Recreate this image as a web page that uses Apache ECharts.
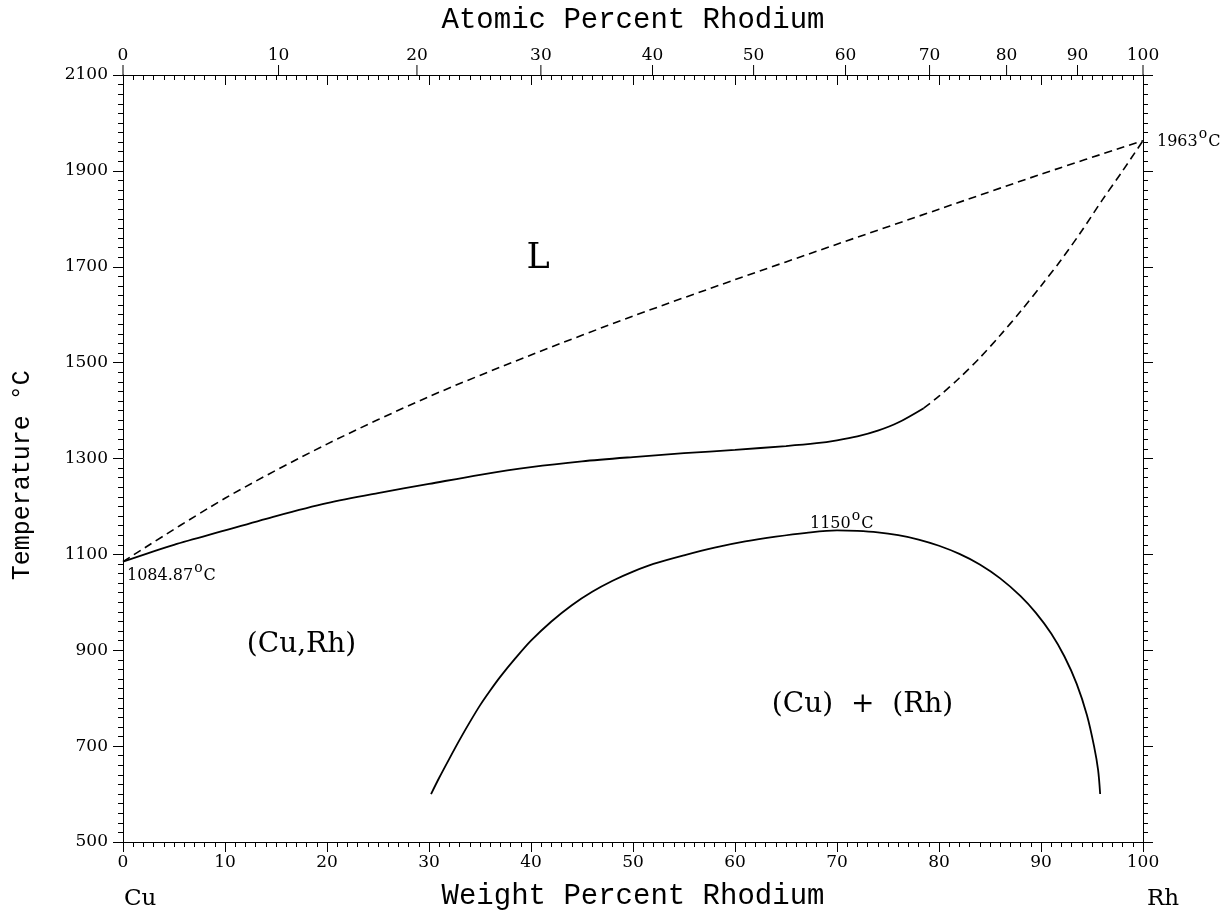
<!DOCTYPE html>
<html>
<head>
<meta charset="utf-8">
<script src="https://cdn.jsdelivr.net/npm/echarts@6/dist/echarts.min.js"></script>
<style>
html,body{margin:0;padding:0;background:#fff;}
#chart{width:1229px;height:913px;}
</style>
</head>
<body>
<div id="chart"></div>
<script>
// ---- data (weight percent Rh, temperature °C) ----
const liquidusW = [0, 10, 20, 30, 40, 50, 60, 70, 80, 90, 100];
const liquidusT = [1084.87, 1217, 1330, 1429, 1516, 1597, 1673, 1747, 1820, 1893, 1963];

const solidusW = [0, 5, 10, 15, 20, 25, 30, 35, 40, 45, 50, 55, 60, 65, 68, 70, 72, 74, 76, 78.5];
const solidusT = [1084.87, 1120, 1150, 1180, 1207, 1228, 1247, 1266, 1282, 1294, 1303, 1311, 1318, 1326, 1332, 1338, 1346, 1358, 1375, 1405];

const solidusUpperW = [78.5, 80, 82, 84, 86, 88, 90, 92, 94, 96, 98, 100];
const solidusUpperT = [1405, 1430, 1468, 1510, 1557, 1607, 1660, 1715, 1775, 1839, 1900, 1963];

const gapW = [30.2, 31, 32, 33, 34, 35, 36, 37, 38.5, 40, 42, 44, 46, 48, 50, 52, 55, 58, 61, 64, 67, 70,
              72, 74, 76, 78, 80, 82, 84, 86, 88, 89.5, 91, 92.3, 93.5, 94.5, 95.2, 95.6, 95.8];
const gapT = [600, 634, 674, 713, 750, 785, 816, 845, 884, 920, 960, 994, 1022, 1045, 1064, 1080, 1098, 1114, 1127, 1137, 1145, 1150,
              1149, 1146, 1140, 1131, 1118, 1101, 1079, 1050, 1013, 978, 935, 887, 830, 765, 700, 650, 600];

const atomicTicks = [0, 10, 20, 30, 40, 50, 60, 70, 80, 90, 100];
const M_CU = 63.546, M_RH = 102.906;
function atToWt(a) {
  if (a <= 0) return 0;
  if (a >= 100) return 100;
  return 100 * a * M_RH / (a * M_RH + (100 - a) * M_CU);
}
const zip = (xs, ys) => xs.map((x, i) => [x, ys[i]]);

const SERIF = '"DejaVu Serif", serif';
const MONO = '"Liberation Mono", monospace';
const plain = v => String(v);

const chart = echarts.init(document.getElementById('chart'), null, {renderer: 'canvas'});

const lineBase = {type: 'line', showSymbol: false, symbol: 'none', smooth: 0.3, silent: true, animation: false, xAxisIndex: 0, yAxisIndex: 0};

const option = {
  backgroundColor: '#fff',
  animation: false,
  grid: {left: 123, right: 86, top: 75, bottom: 71, containLabel: false, outerBoundsMode: 'none'},
  xAxis: [
    {
      type: 'value', position: 'bottom', min: 0, max: 100, interval: 10,
      axisLine: {onZero: false, lineStyle: {color: '#000', width: 1}},
      axisTick: {length: 10, lineStyle: {color: '#000'}},
      minorTick: {show: true, splitNumber: 10, length: 5, lineStyle: {color: '#000'}},
      splitLine: {show: false},
      axisLabel: {color: '#000', fontFamily: SERIF, fontSize: 17, margin: 12, formatter: plain},
      name: 'Weight Percent Rhodium', nameLocation: 'middle', nameGap: 40,
      nameTextStyle: {color: '#000', fontFamily: MONO, fontSize: 29}
    },
    {
      type: 'value', position: 'top', min: 0, max: 100, interval: 10,
      axisLine: {onZero: false, lineStyle: {color: '#000', width: 1}},
      axisTick: {inside: true, length: 10, lineStyle: {color: '#000'}},
      minorTick: {show: true, splitNumber: 10, length: 5, lineStyle: {color: '#000'}},
      splitLine: {show: false},
      axisLabel: {show: false},
      name: 'Atomic Percent Rhodium', nameLocation: 'middle', nameGap: 40,
      nameTextStyle: {color: '#000', fontFamily: MONO, fontSize: 29}
    }
  ],
  yAxis: [
    {
      type: 'value', position: 'left', min: 500, max: 2100, interval: 200,
      axisLine: {show: true, onZero: false, lineStyle: {color: '#000', width: 1}},
      axisTick: {show: true, length: 10, lineStyle: {color: '#000'}},
      minorTick: {show: true, splitNumber: 10, length: 5, lineStyle: {color: '#000'}},
      splitLine: {show: false},
      axisLabel: {color: '#000', fontFamily: SERIF, fontSize: 17, margin: 15, formatter: plain}
    },
    {
      type: 'value', position: 'right', min: 500, max: 2100, interval: 200,
      axisLine: {show: true, onZero: false, lineStyle: {color: '#000', width: 1}},
      axisTick: {show: true, length: 10, lineStyle: {color: '#000'}},
      minorTick: {show: true, splitNumber: 10, length: 5, lineStyle: {color: '#000'}},
      splitLine: {show: false},
      axisLabel: {show: false}
    }
  ],
  series: [
    Object.assign({}, lineBase, {
      name: 'liquidus', data: zip(liquidusW, liquidusT),
      lineStyle: {color: '#000', width: 1.6, type: [8, 5]}
    }),
    Object.assign({}, lineBase, {
      name: 'solidus', data: zip(solidusW, solidusT),
      lineStyle: {color: '#000', width: 1.8}
    }),
    Object.assign({}, lineBase, {
      name: 'solidus-upper', data: zip(solidusUpperW, solidusUpperT),
      lineStyle: {color: '#000', width: 1.6, type: [8, 5]}
    }),
    Object.assign({}, lineBase, {
      name: 'gap', data: zip(gapW, gapT),
      lineStyle: {color: '#000', width: 1.8}
    }),
    {
      type: 'custom', name: 'atomic-axis', xAxisIndex: 1, yAxisIndex: 0, clip: false, silent: true,
      data: atomicTicks.map(a => [atToWt(a), 2100, a]),
      renderItem: function (params, api) {
        const p = api.coord([api.value(0), api.value(1)]);
        return {
          type: 'group',
          children: [
            {type: 'line', shape: {x1: p[0], y1: p[1], x2: p[0], y2: p[1] - 10},
             style: {stroke: '#000', lineWidth: 1}},
            {type: 'text', x: p[0], y: p[1] - 11,
             style: {text: String(api.value(2)), fill: '#000', fontFamily: SERIF, fontSize: 17,
                     align: 'center', verticalAlign: 'bottom'}}
          ]
        };
      }
    }
  ]
};
chart.setOption(option);

// ---- annotations (placed in data coordinates) ----
function tempLabel(value, w, t, dx, dy, align) {
  const p = chart.convertToPixel({xAxisIndex: 0, yAxisIndex: 0}, [w, t]);
  return {
    type: 'text', x: p[0] + dx, y: p[1] + dy, silent: true,
    style: {
      text: '{n|' + value + '}{s|o}{n|C}',
      align: align || 'left', verticalAlign: 'bottom',
      rich: {
        n: {fontFamily: SERIF, fontSize: 16, fill: '#000', lineHeight: 22, verticalAlign: 'bottom'},
        s: {fontFamily: SERIF, fontSize: 14, fill: '#000', lineHeight: 22, verticalAlign: 'top', padding: [0, 1, 6, 1]}
      }
    }
  };
}
function areaLabel(text, w, t, size) {
  const p = chart.convertToPixel({xAxisIndex: 0, yAxisIndex: 0}, [w, t]);
  return {
    type: 'text', x: p[0], y: p[1], silent: true,
    style: {text: text, fill: '#000', fontFamily: SERIF, fontSize: size, align: 'center', verticalAlign: 'middle'}
  };
}
const pL = chart.convertToPixel({xAxisIndex: 0, yAxisIndex: 0}, [0, 500]);
const pR = chart.convertToPixel({xAxisIndex: 0, yAxisIndex: 0}, [100, 500]);
const pMid = chart.convertToPixel({xAxisIndex: 0, yAxisIndex: 0}, [0, 1265]);

chart.setOption({
  graphic: [
    tempLabel('1084.87', 0, 1084.87, 4, 22, 'left'),
    tempLabel('1150', 70, 1150, -27, 1, 'left'),
    tempLabel('1963', 100, 1963, 14, 9, 'left'),
    areaLabel('L', 40.7, 1716, 35),
    areaLabel('(Cu,Rh)', 17.5, 911, 28),
    areaLabel('(Cu)  +  (Rh)', 72.5, 786, 28),
    {type: 'text', x: pMid[0] - 101, y: pMid[1], rotation: Math.PI / 2, silent: true,
     style: {text: 'Temperature \u00B0C', fill: '#000', fontFamily: MONO, fontSize: 25, align: 'center', verticalAlign: 'middle'}},
    {type: 'text', x: pL[0] + 1, y: pL[1] + 57, silent: true,
     style: {text: 'Cu', fill: '#000', fontFamily: SERIF, fontSize: 23, align: 'left', verticalAlign: 'middle'}},
    {type: 'text', x: pR[0] + 4, y: pR[1] + 57, silent: true,
     style: {text: 'Rh', fill: '#000', fontFamily: SERIF, fontSize: 23, align: 'left', verticalAlign: 'middle'}}
  ]
});
</script>
</body>
</html>
